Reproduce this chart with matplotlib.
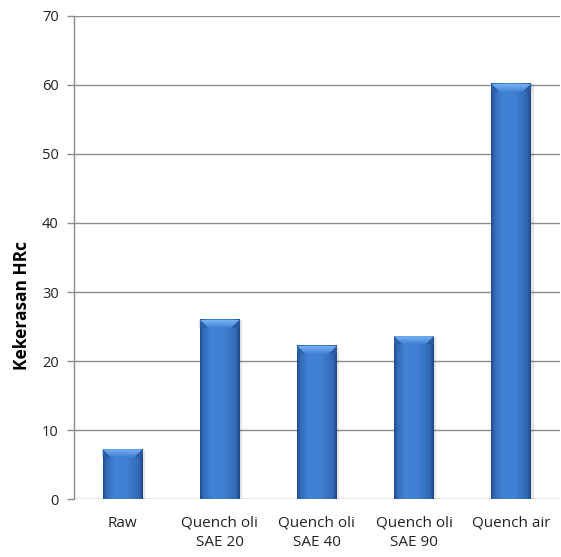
import numpy as np
import matplotlib.pyplot as plt
from matplotlib.colors import LinearSegmentedColormap
from matplotlib.patches import Polygon

categories = ['Raw', 'Quench oli\nSAE 20', 'Quench oli\nSAE 40', 'Quench oli\nSAE 90', 'Quench air']
hardness = [7.2, 26.0, 22.2, 23.6, 60.2]
y_ticks = [0, 10, 20, 30, 40, 50, 60, 70]

plt.rcParams['font.family'] = ['Open Sans', 'DejaVu Sans']

fig = plt.figure(figsize=(5.61, 5.57), dpi=100)
ax = fig.add_axes([0.1319, 0.1041, 0.866, 0.8672])

# horizontal shading for the bar face, darker at both edges
side = LinearSegmentedColormap.from_list(
    'side', [(0, '#1f4a8c'), (0.08, '#3369b6'), (0.3, '#4283d6'), (0.6, '#3f7fd2'), (0.9, '#3369b6'), (1, '#1d4585')])
# vertical shading for the bevelled top
bevel = LinearSegmentedColormap.from_list('bevel', ['#4180d2', '#5e9be6', '#78b2f4'])
hgrad = np.linspace(0, 1, 256).reshape(1, -1)
vgrad = np.linspace(0, 1, 64).reshape(-1, 1)

width = 0.41
bev_h = 1.15
bev_w = 0.085
x = np.arange(len(categories))
for xi, h in zip(x, hardness):
    x0, x1 = xi - width / 2, xi + width / 2
    # soft shadow
    ax.add_patch(plt.Rectangle((x0 + 0.015, 0), width + 0.01, h - 0.1, color='#000000', alpha=0.10, lw=0, zorder=1.5))
    ax.imshow(hgrad, extent=[x0, x1, 0, h], aspect='auto', cmap=side, zorder=2, interpolation='bilinear')
    # side facets of the bevel
    ax.add_patch(Polygon([(x0, h), (x0 + bev_w, h - bev_h), (x0, h - bev_h)], closed=True, lw=0, color='#2d5fa8', zorder=3))
    ax.add_patch(Polygon([(x1, h), (x1 - bev_w, h - bev_h), (x1, h - bev_h)], closed=True, lw=0, color='#2a59a0', zorder=3))
    # top facet
    top = Polygon([(x0, h), (x1, h), (x1 - bev_w, h - bev_h), (x0 + bev_w, h - bev_h)], closed=True, lw=0)
    im = ax.imshow(vgrad, extent=[x0, x1, h - bev_h, h], aspect='auto', cmap=bevel, origin='lower',
                   zorder=3, interpolation='bilinear')
    ax.add_patch(top)
    top.set_visible(False)
    im.set_clip_path(top)

ax.set_xlim(-0.5, len(categories) - 0.5)
ax.set_ylim(0, 70)
ax.set_yticks(y_ticks)
ax.set_xticks(x)
ax.set_xticklabels(categories, fontsize=11, color='#222222', linespacing=1.4)
ax.tick_params(axis='y', length=5, width=1, color='#8c8c8c', labelsize=10.5, labelcolor='#222222', pad=6)
ax.tick_params(axis='x', length=0, pad=12)

ax.grid(axis='y', color='#8c8c8c', lw=1)
ax.set_axisbelow(True)
for s in ['top', 'right', 'bottom']:
    ax.spines[s].set_visible(False)
ax.spines['left'].set_color('#8c8c8c')
ax.spines['left'].set_linewidth(1)

fig.text(22 / 561, 1 - 306 / 557, 'Kekerasan HRc', rotation=90, ha='center', va='center',
         fontsize=12.5, fontweight='bold')

fig.savefig('out.png', dpi=100)
